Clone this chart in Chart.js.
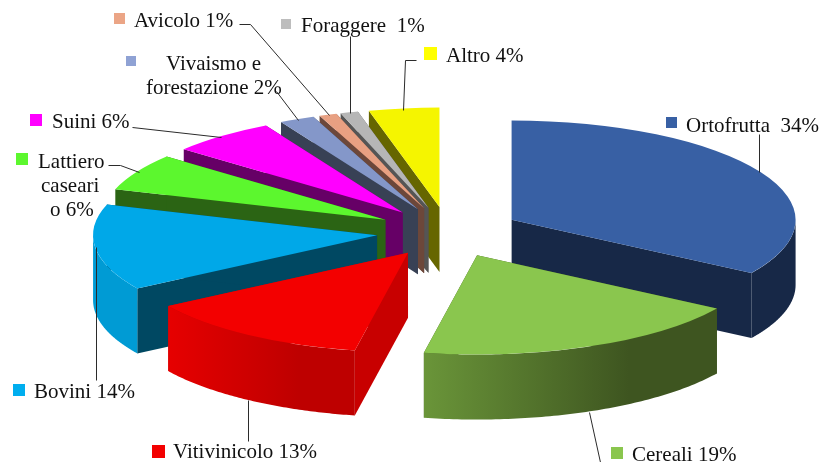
<!DOCTYPE html>
<html lang="it">
<head>
<meta charset="utf-8">
<title>Settori</title>
<script src="https://cdn.jsdelivr.net/npm/chart.js@4"></script>
<style>
  html, body { margin: 0; padding: 0; background: #fff; }
  canvas { display: block; }
</style>
</head>
<body>
<canvas id="grafico" width="821" height="462"></canvas>
<script>
// === Dati ===
const settori = ['Ortofrutta', 'Cereali', 'Vitivinicolo', 'Bovini', 'Lattiero caseari', 'Suini', 'Vivaismo e forestazione', 'Avicolo', 'Foraggere', 'Altro'];
const percentuali = [34, 19, 13, 14, 6, 6, 2, 1, 1, 4];

// === Colori ===
const coloriFaccia = ['#3860a4', '#8ac64e', '#f30000', '#00a8e8', '#5cf72e', '#ff00ff', '#8497c9', '#e8a082', '#b6b6b6', '#f5f500'];
const coloriRadiali = ['#172847', '#3e5520', '#c80000', '#004862', '#2b6414', '#660066', '#384155', '#6c473a', '#555555', '#666600'];
const coloriBordoDa = ['#172847', '#6a9539', '#e60000', '#009bd4', '#2b6414', '#660066', '#384155', '#6c473a', '#555555', '#666600'];
const coloriBordoA = ['#172847', '#3e5520', '#be0000', '#009bd4', '#2b6414', '#660066', '#384155', '#6c473a', '#555555', '#666600'];
const coloriQuadrati = ['#3860a4', '#8ac64e', '#f30000', '#00aeef', '#5cf72e', '#ff00ff', '#8fa2d4', '#eba586', '#bdbdbd', '#ffff00'];

// === Geometria della torta ===
const RAGGIO = 284;
const SCHIACCIAMENTO = 0.35;
const ESPLOSIONE = 72;
const SPESSORE = 65;
const ORDINE_DISEGNO = [9, 8, 7, 6, 5, 4, 3, 2, 0, 1];

// === Etichette: [testo, x, y di base] per riga, quadrato [x, y, lato] ===
const etichette = [
  { righe: [['Ortofrutta  34%', 686, 132]], quadrato: [666, 117, 11] },
  { righe: [['Cereali 19%', 632, 461]], quadrato: [611, 447, 12] },
  { righe: [['Vitivinicolo 13%', 173, 458]], quadrato: [152, 445, 13] },
  { righe: [['Bovini 14%', 34, 398]], quadrato: [13, 384, 12] },
  { righe: [['Lattiero', 38, 168], ['caseari', 41, 192], ['o 6%', 50, 216]], quadrato: [16, 153, 12] },
  { righe: [['Suini 6%', 52, 128]], quadrato: [30, 114, 12] },
  { righe: [['Vivaismo e', 166, 70], ['forestazione 2%', 146, 94]], quadrato: [126, 56, 10] },
  { righe: [['Avicolo 1%', 134, 27]], quadrato: [114, 13, 11] },
  { righe: [['Foraggere  1%', 301, 32]], quadrato: [281, 19, 10] },
  { righe: [['Altro 4%', 446, 62]], quadrato: [424, 47, 13] },
];

const lineeGuida = [
  [[759, 134], [759, 172]],
  [[589, 412], [600, 462]],
  [[248, 400], [248, 441]],
  [[96, 247], [96, 380]],
  [[108, 165], [120, 165], [139, 172]],
  [[132, 127], [221, 137]],
  [[276, 91], [298, 120]],
  [[239, 24], [250, 24], [329, 115]],
  [[350, 36], [350, 113]],
  [[416, 60], [405, 60], [403, 110]],
];

// === Disegno ===
function disegnaPareti(ctx, arco, i) {
  const meta = (arco.startAngle + arco.endAngle) / 2;
  const cx = arco.x + Math.cos(meta) * ESPLOSIONE;
  const cy = arco.y + Math.sin(meta) * ESPLOSIONE * SCHIACCIAMENTO;
  const punto = a => [cx + Math.cos(a) * RAGGIO, cy + Math.sin(a) * RAGGIO * SCHIACCIAMENTO];

  // pareti radiali
  ctx.fillStyle = coloriRadiali[i];
  [arco.startAngle, arco.endAngle].forEach(a => {
    const [px, py] = punto(a);
    ctx.beginPath();
    ctx.moveTo(cx, cy);
    ctx.lineTo(px, py);
    ctx.lineTo(px, py + SPESSORE);
    ctx.lineTo(cx, cy + SPESSORE);
    ctx.closePath();
    ctx.fill();
  });

  // parete esterna, solo la parte davanti (angoli tra 0 e PI)
  const inizio = Math.max(arco.startAngle, 0);
  const fine = Math.min(arco.endAngle, Math.PI);
  if (fine <= inizio) return;
  const passi = 80;
  const bordo = [];
  for (let k = 0; k <= passi; k++) {
    bordo.push(punto(inizio + ((fine - inizio) * k) / passi));
  }
  const xs = bordo.map(p => p[0]);
  const gradiente = ctx.createLinearGradient(Math.min(...xs), 0, Math.max(...xs), 0);
  gradiente.addColorStop(0, coloriBordoDa[i]);
  gradiente.addColorStop(0.7, coloriBordoA[i]);
  gradiente.addColorStop(1, coloriBordoA[i]);
  ctx.fillStyle = gradiente;
  ctx.beginPath();
  bordo.forEach(([px, py], k) => (k ? ctx.lineTo(px, py) : ctx.moveTo(px, py)));
  bordo.slice().reverse().forEach(([px, py]) => ctx.lineTo(px, py + SPESSORE));
  ctx.closePath();
  ctx.fill();
}

function disegnaFaccia(ctx, arco) {
  const meta = (arco.startAngle + arco.endAngle) / 2;
  ctx.save();
  ctx.translate(arco.x, arco.y);
  ctx.scale(1, SCHIACCIAMENTO);
  ctx.translate(Math.cos(meta) * ESPLOSIONE, Math.sin(meta) * ESPLOSIONE);
  ctx.translate(-arco.x, -arco.y);
  arco.draw(ctx);
  ctx.restore();
}

function disegnaEtichette(ctx) {
  ctx.strokeStyle = '#2b2b2b';
  ctx.lineWidth = 1;
  lineeGuida.forEach(linea => {
    ctx.beginPath();
    linea.forEach(([x, y], k) => (k ? ctx.lineTo(x + 0.5, y + 0.5) : ctx.moveTo(x + 0.5, y + 0.5)));
    ctx.stroke();
  });

  ctx.font = '21px "Liberation Serif"';
  ctx.textBaseline = 'alphabetic';
  etichette.forEach((etichetta, i) => {
    const [x, y, lato] = etichetta.quadrato;
    ctx.fillStyle = coloriQuadrati[i];
    ctx.fillRect(x, y, lato, lato);
    ctx.fillStyle = '#111';
    etichetta.righe.forEach(([testo, tx, ty]) => ctx.fillText(testo, tx, ty));
  });
}

const tortaSolida = {
  id: 'tortaSolida',
  beforeDatasetDraw(chart) {
    const ctx = chart.ctx;
    const archi = chart.getDatasetMeta(0).data;
    ORDINE_DISEGNO.forEach(i => {
      disegnaPareti(ctx, archi[i], i);
      disegnaFaccia(ctx, archi[i]);
    });
    disegnaEtichette(ctx);
    return false;
  },
};

new Chart(document.getElementById('grafico').getContext('2d'), {
  type: 'pie',
  data: {
    labels: settori,
    datasets: [{
      data: percentuali,
      backgroundColor: coloriFaccia,
      borderWidth: 0,
      radius: RAGGIO,
      clip: false,
    }],
  },
  options: {
    responsive: false,
    animation: false,
    devicePixelRatio: 1,
    layout: { padding: { left: 76, top: 2 } },
    plugins: { legend: { display: false }, tooltip: { enabled: false } },
  },
  plugins: [tortaSolida],
});
</script>
</body>
</html>
